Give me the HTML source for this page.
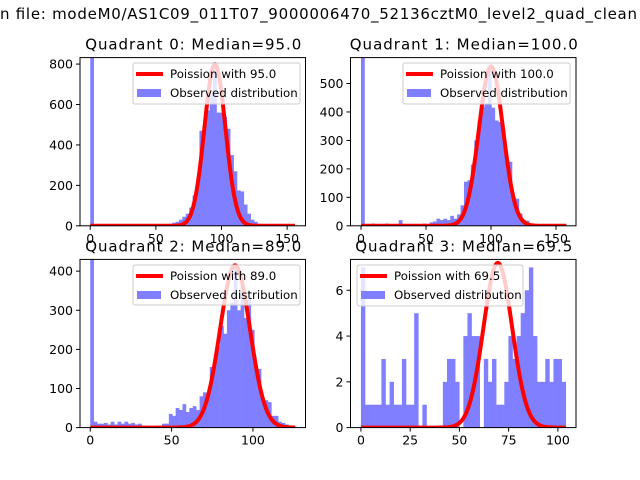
<!DOCTYPE html>
<html><head><meta charset="utf-8">
<style>
html,body{margin:0;padding:0;background:#fff;}
svg{display:block;font-family:"DejaVu Sans","Liberation Sans",sans-serif;}
</style></head>
<body>
<svg id="fig" width="640" height="480" viewBox="0 0 640 480">
<rect width="640" height="480" fill="#fff"/>
<text x="0" y="19" font-size="15" fill="#000" textLength="637" lengthAdjust="spacing">n file: modeM0/AS1C09_011T07_9000006470_52136cztM0_level2_quad_clean</text>
<text x="640" y="19" font-size="15" fill="#000">.evt</text>
</svg>
<script>
// ---- data ----
const titles = ["Quadrant 0: Median=95.0","Quadrant 1: Median=100.0","Quadrant 2: Median=89.0","Quadrant 3: Median=69.5"];
const legendLabels = ["Poission with 95.0","Poission with 100.0","Poission with 89.0","Poission with 69.5"];
const binWidths = [2.6, 2.64, 2.1, 2.08];
const q0Counts = [830,0,0,0,0,0,0,0,0,0,0,0,0,0,0,0,0,0,0,0,0,5,8,10,15,20,30,45,60,90,150,210,470,480,570,650,800,560,560,540,480,350,270,175,170,105,60,30,20,10,5,2,2,2,2,2,2,2,2,2];
const q1Counts = [600,0,0,8,0,0,0,8,0,0,0,20,0,0,0,0,2,5,8,5,12,15,25,20,25,20,35,25,40,72,155,160,215,300,370,418,430,558,415,370,365,335,230,225,100,95,43,20,18,8,6,4,3,3,2,2,2,1,1,1];
const q2Counts = [440,15,10,10,12,8,15,8,15,10,15,10,12,8,10,5,5,3,0,5,5,10,10,35,30,50,45,60,40,50,55,45,80,90,85,155,170,210,260,240,300,320,410,300,370,280,330,250,160,150,75,70,65,30,30,15,12,8,5,3];
const q3Counts = [7,1,1,1,1,3,1,2,1,1,3,1,1,5,0,1,0,0,0,0,2,3,3,2,0,4,5,4,4,0,3,2,3,1,1,2,4,3,4,5,6,7,4,2,2,3,2,3,3,2];
const poissonMean = [95.0, 100.0, 89.0, 69.5];
const poissonPeak = [800, 560, 415, 7.2];
const poissonSigma = [8.0, 9.3, 9.2, 7.3];
const poissonMax = [156, 158, 126, 104];
const xTicks = [[0,50,100,150],[0,50,100,150],[0,50,100],[0,25,50,75,100]];
const yTicks = [[0,200,400,600,800],[0,100,200,300,400,500],[0,100,200,300,400],[0,2,4,6]];
const xDomains = [[-7.8,164],[-8.1,165.4],[-6.3,132.3],[-5.3,109.2]];
const yMax = [832, 591, 430, 7.35];
const allCounts = [q0Counts,q1Counts,q2Counts,q3Counts];

// ---- layout ----
const NS = "http://www.w3.org/2000/svg";
const svg = document.getElementById("fig");
const boxes = [[80,57.6,305.5,225.8],[350.5,57.6,576,225.8],[80,259.4,305.5,427.6],[350.5,259.4,576,427.6]];
const legendBoxes = [[133,63,300,104],[403,63,570,104],[133,265,300,305],[357,265,523,306]];
const titleLens = [216, 228, 216, 217];
function mk(tag, attrs, parent){const e=document.createElementNS(NS,tag);for(const k in attrs)e.setAttribute(k,attrs[k]);(parent||svg).appendChild(e);return e;}

for (let p=0;p<4;p++){
  const [L,T,R,B] = boxes[p];
  const [xmin,xmax] = xDomains[p];
  const xs = v => L + (v - xmin)/(xmax - xmin)*(R-L);
  const ys = v => B - v/yMax[p]*(B-T);
  const g = mk("g",{});
  
  
  const cid = "clip"+p;
  const cp = mk("clipPath",{id:cid},g);
  mk("rect",{x:L,y:T,width:R-L,height:B-T},cp);
  const plot = mk("g",{"clip-path":"url(#"+cid+")"},g);
  const counts = allCounts[p], w = binWidths[p];
  for (let i=0;i<counts.length;i++){
    if (counts[i]<=0) continue;
    const x0 = xs(i*w), x1 = xs((i+1)*w), y = ys(counts[i]);
    const r = mk("rect",{x:x0,y:y,width:x1-x0+0.3,height:B-y,fill:"#7f7fff"},plot);
    
    
  }
  let d="";
  for (let k=0;k<=poissonMax[p];k+=0.5){
    const v = poissonPeak[p]*Math.exp(-Math.pow(k-poissonMean[p],2)/(2*poissonSigma[p]*poissonSigma[p]));
    d += (k===0?"M":"L")+xs(k).toFixed(2)+","+ys(v).toFixed(2);
  }
  const c = mk("path",{d:d,fill:"none",stroke:"#ff0000","stroke-width":4,"stroke-linejoin":"round"},plot);
  
  
  const fr = mk("rect",{x:L,y:T,width:R-L,height:B-T,fill:"none",stroke:"#000","stroke-width":1},g);
  
  
  xTicks[p].forEach(v=>{
    const x = xs(v);
    mk("line",{x1:x,y1:B,x2:x,y2:B+4,stroke:"#000","stroke-width":1},g);
    const t = mk("text",{x:x,y:B+17,"font-size":12.5,"text-anchor":"middle"},g);
    t.textContent = v;
    
    
  });
  yTicks[p].forEach(v=>{
    const y = ys(v);
    mk("line",{x1:L-4,y1:y,x2:L,y2:y,stroke:"#000","stroke-width":1},g);
    const t = mk("text",{x:L-7,y:y+4.5,"font-size":12.5,"text-anchor":"end"},g);
    t.textContent = v;
    
    
  });
  const tt = mk("text",{x:(L+R)/2 - titleLens[p]/2 + 0.5,y:T-8,"font-size":15,textLength:titleLens[p],lengthAdjust:"spacing"},g);
  tt.textContent = titles[p];
  
  
  const [lx0,ly0,lx1,ly1] = legendBoxes[p];
  const lg = mk("g",{},g);
  
  
  mk("rect",{x:lx0,y:ly0,width:lx1-lx0,height:ly1-ly0,rx:2,fill:"#fff","fill-opacity":0.8,stroke:"#cccccc","stroke-width":1},lg);
  const e1 = mk("g",{},lg);
  
  
  mk("line",{x1:lx0+3,y1:ly0+11,x2:lx0+30,y2:ly0+11,stroke:"#ff0000","stroke-width":4},e1);
  const t1 = mk("text",{x:lx0+37,y:ly0+15,"font-size":11.8},e1);
  t1.textContent = legendLabels[p];
  const e2 = mk("g",{},lg);
  
  
  mk("rect",{x:lx0+4,y:ly0+26,width:24,height:8,fill:"#7f7fff"},e2);
  const t2 = mk("text",{x:lx0+37,y:ly0+34,"font-size":11.8},e2);
  t2.textContent = "Observed distribution";
}
</script>
</body></html>
